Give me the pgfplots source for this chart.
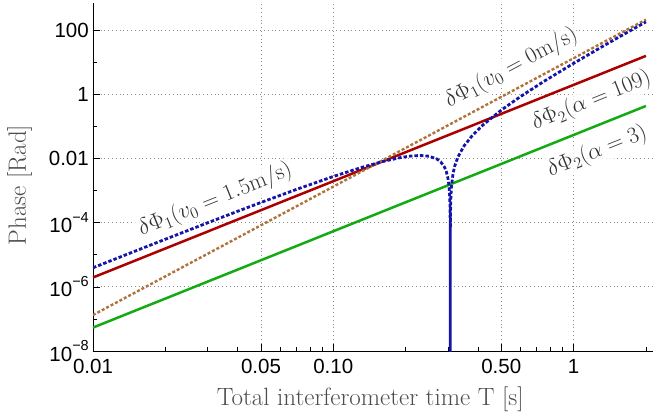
\RequirePackage{fix-cm}
\documentclass[border=0pt]{standalone}
\usepackage{fontspec}
\usepackage{pgfplots}
\pgfplotsset{compat=1.18}
\newfontfamily\arial{Liberation Sans}
\definecolor{cblue}{RGB}{20,20,170}
\definecolor{cred}{RGB}{170,0,0}
\definecolor{cgreen}{RGB}{20,170,20}
\definecolor{cbrown}{RGB}{175,115,60}
\newcommand\tk{\fontsize{20.5}{20.5}\selectfont\arial}
\newcommand\ex[1]{10\raisebox{0.5em}{\fontsize{14.5}{14.5}\selectfont −#1}}
\tikzset{lab/.style={fill=white, fill opacity=0.8, text opacity=1, text=black!80,
              inner sep=1.5pt, font=\fontsize{23}{27}\selectfont}}

\begin{document}
\begin{tikzpicture}
\path[use as bounding box] (-93pt,-65pt) rectangle (561pt,351pt);
\begin{axis}[
  at={(0pt,0pt)}, anchor=south west,
  scale only axis, width=560pt, height=348pt,
  xmode=log, ymode=log,
  xmin=0.01, xmax=2.14, ymin=1e-8, ymax=693,
  axis lines*=left,
  axis line style={black, line width=0.8pt},
  tick align=inside,
  major tick length=7pt, minor tick length=4pt,
  tick style={black, line width=0.6pt},
  xtick={0.01,0.05,0.1,0.5,1},
  xticklabels={0.01,0.05,0.10,0.50,1},
  minor xtick={0.02,0.03,0.04,0.06,0.07,0.08,0.09,0.2,0.3,0.4,0.6,0.7,0.8,0.9,2},
  ytick={1e-8,1e-6,1e-4,1e-2,1,100},
  yticklabels={\ex{8},\ex{6},\ex{4},0.01,1,100},
  minor ytick={1e-7,1e-5,1e-3,0.1,10},
  grid=major,
  major grid style={black!45, line width=0.7pt, dash pattern=on 0.8pt off 3pt},
  ticklabel style={font=\tk},
  xticklabel style={anchor=north, inner sep=0pt, yshift=-8pt},
  yticklabel style={anchor=east, inner sep=0pt, xshift=-4pt},
  xlabel={Total interferometer time T [s]},
  ylabel={Phase [Rad]},
  label style={font=\fontsize{25}{29}\selectfont, text=black!70},
  xlabel style={at={([yshift=-54pt]axis description cs:0.495,0)}, anchor=base},
  ylabel style={at={([xshift=-67pt]axis description cs:0,0.477)}, anchor=base},
  clip mode=individual,
]
% green: dPhi2, alpha = 3
\addplot[cgreen, line width=2.5pt] coordinates {
  (0.01,5.37e-8) (0.1,5.37e-5) (1,0.0537) (2,0.4296)
};
% red: dPhi2, alpha = 109
\addplot[cred, line width=2.5pt] coordinates {
  (0.01,1.95e-6) (0.1,1.95e-3) (1,1.95) (2,15.6)
};
% brown: dPhi1, v0 = 0
\addplot[cbrown, line width=2.4pt, dash pattern=on 3pt off 2pt] coordinates {
  (0.01,1.32e-7) (0.1,1.32e-3) (1,13.2) (2,211.2)
};
% blue: dPhi1, v0 = 1.5 m/s
\addplot[cblue, line width=2.8pt, dash pattern=on 3.5pt off 2pt] coordinates {
  (0.01,3.918e-6) (0.015,1.300e-5) (0.02,3.029e-5) (0.03,9.866e-5)
  (0.04,2.254e-4) (0.05,4.238e-4) (0.07,1.0722e-3) (0.1,2.73e-3)
  (0.13,5.128e-3) (0.16,7.938e-3) (0.19,1.0577e-2) (0.21,1.1836e-2)
  (0.23,1.2337e-2) (0.25,1.1719e-2) (0.27,9.566e-3) (0.28,7.771e-3)
  (0.29,5.414e-3) (0.295,4.005e-3) (0.3,2.43e-3) (0.303,1.402e-3)
  (0.305,6.81e-4) (0.306,3.09e-4) (0.3065,1.21e-4) (0.3068,6.93e-6)
  (0.30681,3.12e-6) (0.306818,1e-12) (0.30683,4.5e-6) (0.3069,3.12e-5)
  (0.307,6.94e-5) (0.308,4.558e-4) (0.31,1.251e-3) (0.315,3.376e-3)
  (0.32,5.702e-3) (0.33,1.0997e-2) (0.35,2.444e-2) (0.38,5.301e-2)
  (0.42,0.1107) (0.5,0.3188) (0.6,0.8359) (0.75,2.468) (1.0,9.15)
  (1.3,28.80) (1.6,69.92) (2.0,178.8)
};
\node[lab, rotate=21.9] at (axis cs:0.0323,5.06e-4) {$\delta\Phi_1(v_0 = 1.5\mathrm{m/s})$};
\node[lab, rotate=28.1] at (axis cs:0.551,6.55) {$\delta\Phi_1(v_0 = 0\mathrm{m/s})$};
\node[lab, rotate=21.9] at (axis cs:1.187,0.614) {$\delta\Phi_2(\alpha = 109)$};
\node[lab, rotate=21.9] at (axis cs:1.256,0.0164) {$\delta\Phi_2(\alpha = 3)$};
\end{axis}
\end{tikzpicture}
\end{document}
